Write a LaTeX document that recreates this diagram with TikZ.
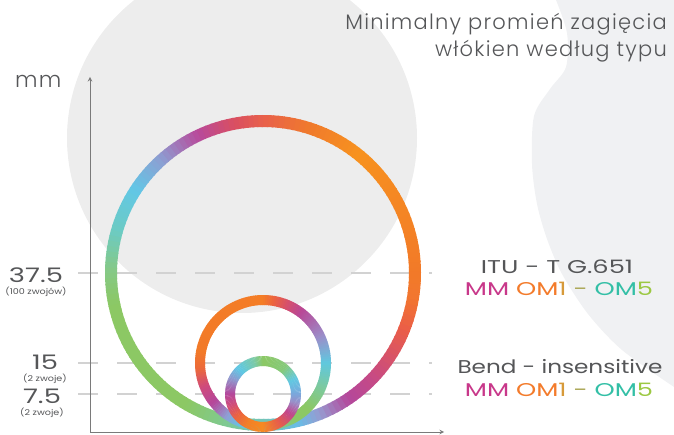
\documentclass[tikz,border=0pt]{standalone}
\usepackage{fontspec}
\setmainfont{Poppins}
\newfontfamily\thinfont{Poppins Light}[LetterSpace=6]
\usetikzlibrary{positioning}

\definecolor{txtgrey}{HTML}{555658}
\definecolor{bgcircle}{HTML}{EDEDED}
\definecolor{bgblob}{HTML}{F0F1F3}
\definecolor{axisgrey}{HTML}{7A7A7A}
\definecolor{dashgrey}{HTML}{D2D2D2}
\definecolor{mmpink}{HTML}{C8388A}
\definecolor{mmorange}{HTML}{F37B2B}
\definecolor{mmgold}{HTML}{D79A3A}
\definecolor{mmolive}{HTML}{A9A552}
\definecolor{mmteal}{HTML}{33BFA6}
\definecolor{mmlime}{HTML}{9CC842}

% ring with colour stops: center, radius, width, {angle/hex,...}
\newcommand\fiberring[4]{%
  \foreach \ang/\hx [remember=\ang as \angp (initially 0), remember=\hx as \hxp (initially FFFFFF)] in {#4}{
    \ifnum\ang>0
      \definecolor{ringfrom}{HTML}{\hxp}
      \definecolor{ringto}{HTML}{\hx}
      \pgfmathtruncatemacro\nseg{max(1,round((\ang-\angp)/2))}
      \foreach \k in {1,...,\nseg}{
        \pgfmathsetmacro\sa{\angp+(\ang-\angp)*(\k-1)/\nseg}
        \pgfmathsetmacro\ea{\angp+(\ang-\angp)*\k/\nseg+0.5}
        \pgfmathsetmacro\pc{100*(\k-0.5)/\nseg}
        \draw[line width=#3, ringto!\pc!ringfrom] (#1) ++(\sa:#2) arc[start angle=\sa, end angle=\ea, radius=#2];
      }
    \fi
  }
}
\newcommand\omline{{\color{mmpink}MM} {\color{mmorange}OM}{\color{mmgold}1} {\color{mmolive}-} {\color{mmteal}OM}{\color{mmlime}5}}
\newcommand\wide[2][1.37]{\scalebox{#1}[1]{#2}}

\begin{document}
\begin{tikzpicture}[x=1pt, y=1pt,
	axislab/.style={inner sep=0pt, text=txtgrey, font=\fontsize{20}{20}\selectfont},
	sublab/.style={inner sep=0pt, text=txtgrey, font=\fontsize{8}{8}\selectfont},
	fibrelab/.style={inner sep=0pt, text=txtgrey, font=\fontsize{18.5}{18.5}\selectfont},
	level/.style={dashgrey, line width=1.6pt, dash pattern=on 20pt off 19pt}]
	\useasboundingbox (0,0) rectangle (674,434);
	\begin{scope}
		\clip (0,0) rectangle (674,434);
		\fill[bgcircle] (242,296) circle (175);
		\fill[bgblob] plot[smooth] coordinates {(556,434) (567,401) (566,367) (550,345) (534,318) (532,270) (537,230) (547,195) (562,160) (588,120) (622,84) (674,47)} -- (674,434) -- cycle;
	\end{scope}
	
	\coordinate (O) at (90,2);
	\coordinate (ytop) at (90,357);
	\coordinate (xend) at (444,2);
	\coordinate (bigC) at (263,161);
	\coordinate (midC) at (263,71);
	\coordinate (smallC) at (263,40);
	
	% levels
	\foreach \lv in {161,71,40}
		\draw[level] (78,\lv) -- (432,\lv);
	
	\draw[axisgrey, line width=1pt, -stealth] (O) -- (ytop);
	\draw[axisgrey, line width=1pt, -stealth] (O) -- (xend);
	
	\fiberring{bigC}{152}{12pt}{0/F27A28,52/F7921F,72/F07A2C,90/E8604B,101/D94F62,115/B84A9B,132/8D9ED2,147/62C7E6,164/6CCBC3,178/84C98A,192/8CC864,240/8CC864,255/80C98F,270/74C5B8,283/68BCE6,292/979BD0,304/B3489C,316/C64A86,338/EA5D48,350/F27530,360/F27A28}
	\fiberring{midC}{63}{10pt}{0/60C8DF,24/9A8FCA,53/B84897,67/D54F6D,80/EC6340,90/F47D26,170/F27A28,185/EC6A3A,202/CF4A7C,219/B5479B,236/8FA0D5,250/66C2E3,270/70C6C0,300/8CC864,315/8CC864,338/7CC9A0,360/60C8DF}
	\fiberring{smallC}{33}{10pt}{0/7AA8DC,25/62C8E2,50/86C97C,90/8CC864,105/7CCAA8,134/5EC8E5,153/8D9BD0,180/B4489C,200/D04C7A,220/EC6240,243/F47F25,270/F68A22,300/E85B4C,325/C1468F,345/9A8EC8,360/7AA8DC}
	
	\node[anchor=base east, inner sep=0pt, text=txtgrey, font=\thinfont\fontsize{21}{21}\selectfont] (title1) at (667,404) {Minimalny promień zagięcia};
	\node[anchor=base east, inner sep=0pt, text=txtgrey, font=\thinfont\fontsize{21}{21}\selectfont] (title2) at (667,377) {włókien według typu};
	\node[anchor=base west, inner sep=0pt, text=txtgrey, font=\thinfont\fontsize{22}{22}\selectfont] (unit) at (15,346) {mm};
	
	\node[axislab] (l375) at (36,159) {\wide{37.5}};
	\node[sublab, below=4pt of l375] (s375) {\wide[1.2]{(100 zwojów)}};
	\node[axislab] (l15) at (45,71.5) {\wide{15}};
	\node[sublab, below=4pt of l15] (s15) {\wide[1.2]{(2 zwoje)}};
	\node[axislab] (l75) at (42,38) {\wide{7.5}};
	\node[sublab, below=4pt of l75] (s75) {\wide[1.2]{(2 zwoje)}};
	
	\node[fibrelab] (itu) at (557,167.5) {\wide[1.39]{ITU - T G.651}};
	\node[fibrelab] (om1) at (559,145.5) {\wide[1.39]{\omline}};
	\node[fibrelab] (bend) at (560,67.5) {\wide[1.25]{Bend - insensitive}};
	\node[fibrelab] (om2) at (559,44.5) {\wide[1.39]{\omline}};
\end{tikzpicture}
\end{document}
